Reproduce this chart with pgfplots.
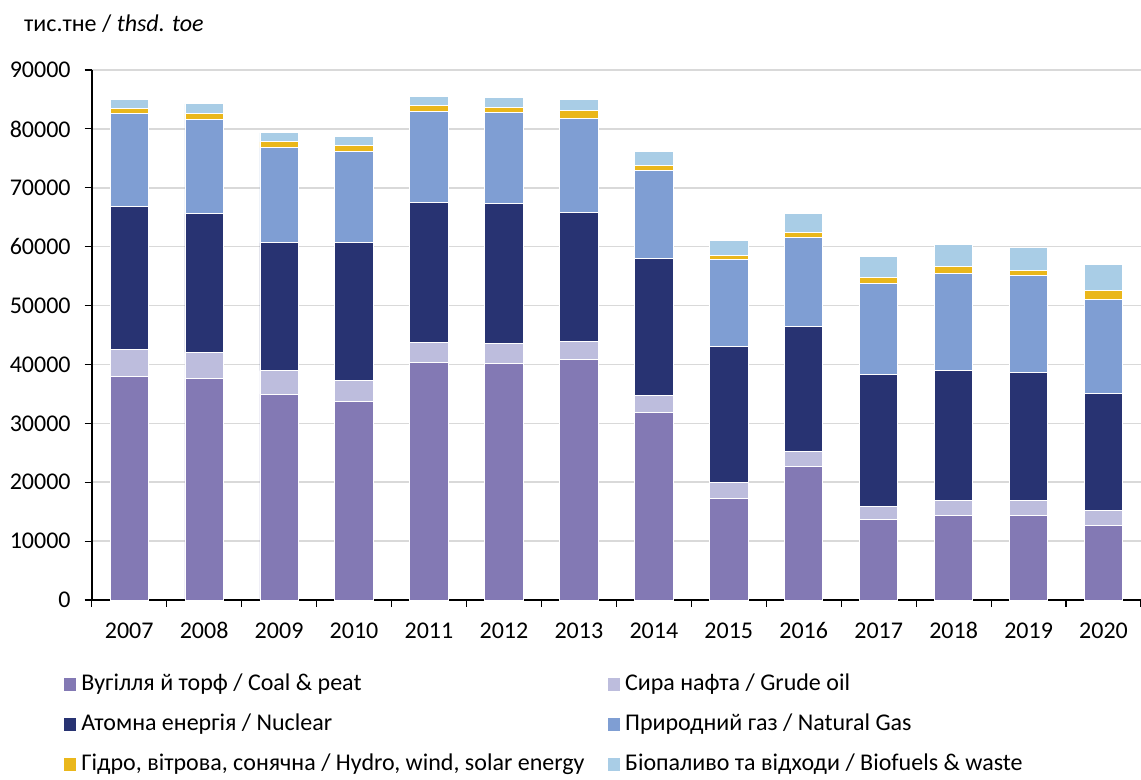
\documentclass[border=0pt]{standalone}
\usepackage{fontspec}
\setmainfont{Carlito}
\usepackage{pgfplots}
\usepackage{pgfplotstable}
\pgfplotsset{compat=1.18}
\definecolor{coal}{HTML}{8379B4}
\definecolor{oil}{HTML}{BDBDDD}
\definecolor{nuc}{HTML}{283372}
\definecolor{gas}{HTML}{7F9ED3}
\definecolor{hyd}{HTML}{EAB71B}
\definecolor{bio}{HTML}{A9CDE6}
\definecolor{gridc}{HTML}{D9D9D9}

\pgfplotstableread{
x coal oil nuc gas hyd bio
0 37980 4520 24270 15860 850 1530
1 37570 4420 23600 16020 960 1690
2 34970 3960 21730 16140 1010 1530
3 33670 3630 23360 15450 1090 1580
4 40290 3460 23700 15520 960 1580
5 40240 3390 23660 15450 900 1650
6 40800 3170 21790 16020 1300 1980
7 31800 2890 23260 14940 850 2440
8 17320 2660 23030 14830 620 2610
9 22750 2430 21220 15120 840 3340
10 13700 2260 22360 15500 900 3570
11 14430 2430 22190 16470 1070 3800
12 14380 2540 21680 16470 900 3850
13 12730 2490 19920 15850 1590 4410
}\data

\newcommand{\cw}[1]{\makebox[260.85pt][l]{#1}}

\begin{document}
\begin{tikzpicture}[font=\fontsize{12}{14}\selectfont]
\useasboundingbox (-45.85pt,-90pt) rectangle (524.65pt,300pt);
\begin{axis}[
  at={(0pt,0pt)}, anchor=south west,
  scale only axis, width=524.65pt, height=265pt,
  xmin=-0.5, xmax=13.5, ymin=0, ymax=90000,
  enlargelimits=false, clip=false,
  ybar stacked, bar width=19.15pt,
  axis x line=bottom, axis y line=left,
  axis line style={-, black, line width=1pt},
  tick align=outside,
  ytick={0,10000,...,90000},
  ymajorgrids, grid style={gridc, line width=0.75pt},
  xtick={0,...,13},
  xticklabels={2007,2008,2009,2010,2011,2012,2013,2014,2015,2016,2017,2018,2019,2020},
  major x tick style={draw=none},
  minor xtick={-0.5,0.5,...,13.5},
  major tick length=3.5pt, minor tick length=3.5pt,
  tick style={black, line width=0.6pt},
  minor x tick style={black, line width=0.6pt},
  scaled y ticks=false,
  yticklabel style={/pgf/number format/1000 sep={}, xshift=-3.5pt},
  xticklabel style={text height=8pt, text depth=0pt, anchor=north, yshift=-4pt},
  /pgf/number format/assume math mode=true,
  legend columns=2,
  legend style={at={(0,0)}, anchor=north west, xshift=-13.85pt, yshift=-36.5pt,
    draw=none, fill=none, inner sep=0pt, column sep=0pt, row sep=9pt,
    nodes={inner xsep=2.5pt, inner ysep=0pt, text height=8.5pt, text depth=2.5pt, anchor=west},
    font=\fontsize{12}{14}\selectfont},
  legend cell align=left,
  legend image code/.code={\path[#1, draw=none] (0pt,-3.25pt) rectangle (6pt,3.25pt);},
]
\addplot[fill=coal, draw=white, line width=0.4pt] table[x=x,y=coal]{\data};
\addlegendentry{\cw{Вугілля й торф / Coal \& peat}}
\addplot[fill=oil, draw=white, line width=0.4pt] table[x=x,y=oil]{\data};
\addlegendentry{Сира нафта / Grude oil}
\addplot[fill=nuc, draw=white, line width=0.4pt] table[x=x,y=nuc]{\data};
\addlegendentry{\cw{Атомна енергія / Nuclear}}
\addplot[fill=gas, draw=white, line width=0.4pt] table[x=x,y=gas]{\data};
\addlegendentry{Природний газ / Natural Gas}
\addplot[fill=hyd, draw=white, line width=0.4pt] table[x=x,y=hyd]{\data};
\addlegendentry{\cw{Гідро, вітрова, сонячна / Hydro, wind, solar energy}}
\addplot[fill=bio, draw=white, line width=0.4pt] table[x=x,y=bio]{\data};
\addlegendentry{Біопаливо та відходи / Biofuels \& waste}
\node[anchor=west, inner sep=0pt] at (rel axis cs:0,1) [xshift=-34pt, yshift=23pt] {тис.тне / \textit{thsd. toe}};
\end{axis}
\end{tikzpicture}
\end{document}
